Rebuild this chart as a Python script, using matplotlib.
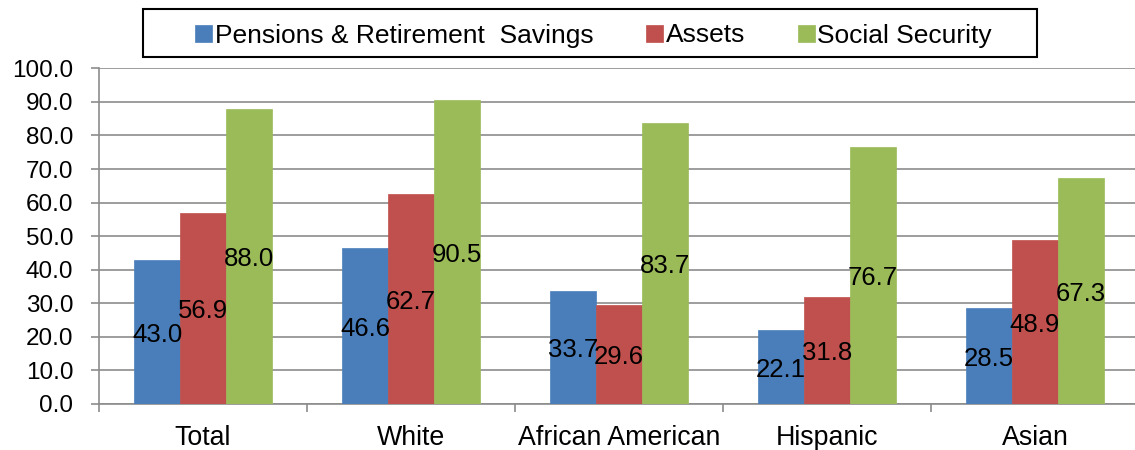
import matplotlib
matplotlib.use("Agg")
import matplotlib.pyplot as plt
import numpy as np
from matplotlib.patches import Rectangle

plt.rcParams['font.family'] = ['Liberation Sans', 'DejaVu Sans']

categories = ["Total", "White", "African American", "Hispanic", "Asian"]
series_names = ["Pensions & Retirement  Savings", "Assets", "Social Security"]
pensions = [43.0, 46.6, 33.7, 22.1, 28.5]
assets = [56.9, 62.7, 29.6, 31.8, 48.9]
social_security = [88.0, 90.5, 83.7, 76.7, 67.3]
colors = ["#4A7EBB", "#C0504D", "#9BBB59"]
yticks = np.arange(0, 101, 10)

W, H = 1135, 450
fig = plt.figure(figsize=(W / 100, H / 100), dpi=100)
ax = fig.add_axes([99 / W, (H - 404) / H, 1040 / W, (404 - 68.3) / H])

x = np.arange(len(categories))
bw = 0.22
grid_c = "#8C8C8C"
for i, (vals, name, c) in enumerate(zip([pensions, assets, social_security], series_names, colors)):
    bars = ax.bar(x + (i - 1) * bw, vals, bw, color=c, label=name, zorder=3,
                  edgecolor=c, linewidth=0.5)
    anns = ax.bar_label(bars, labels=[f"{v:.1f}" for v in vals], label_type='center',
                        fontsize=18.5, color='black', zorder=5)
    for a in anns:
        a.xyann = (0, -2)

ax.set_xlim(-0.5, len(categories) - 0.5)
ax.set_ylim(0, 100)
ax.set_yticks(yticks)
ax.set_yticklabels([f"{v:.1f}" for v in yticks], fontsize=17.5)
ax.set_xticks(x)
ax.set_xticklabels(categories, fontsize=19.3)
ax.set_xticks(np.arange(-0.5, len(categories), 1.0), minor=True)
ax.tick_params(axis='x', which='major', length=0, pad=15)
ax.tick_params(axis='x', which='minor', length=6, width=1.2, color=grid_c)
ax.tick_params(axis='y', length=5.5, width=1.2, color=grid_c, pad=13)

ax.yaxis.grid(True, color=grid_c, linewidth=1.2, zorder=0)
ax.set_axisbelow(True)
for s in ["top", "right"]:
    ax.spines[s].set_visible(False)
for s in ["left", "bottom"]:
    ax.spines[s].set_color(grid_c)
    ax.spines[s].set_linewidth(1.2)

# legend
handles, labels = ax.get_legend_handles_labels()
leg = fig.legend(handles, labels, loc='center', bbox_to_anchor=(593.5 / W, 1 - 35.5 / H),
                 ncol=3, frameon=False, fontsize=19, handlelength=0.64, handleheight=0.64,
                 handletextpad=0.1, columnspacing=2.0, borderpad=0)
fig.patches.append(Rectangle((143 / W, 1 - 57 / H), (1037 - 143) / W, 48 / H,
                             transform=fig.transFigure, fill=False, edgecolor='black',
                             linewidth=1.5))

fig.savefig("out.png", dpi=100)
